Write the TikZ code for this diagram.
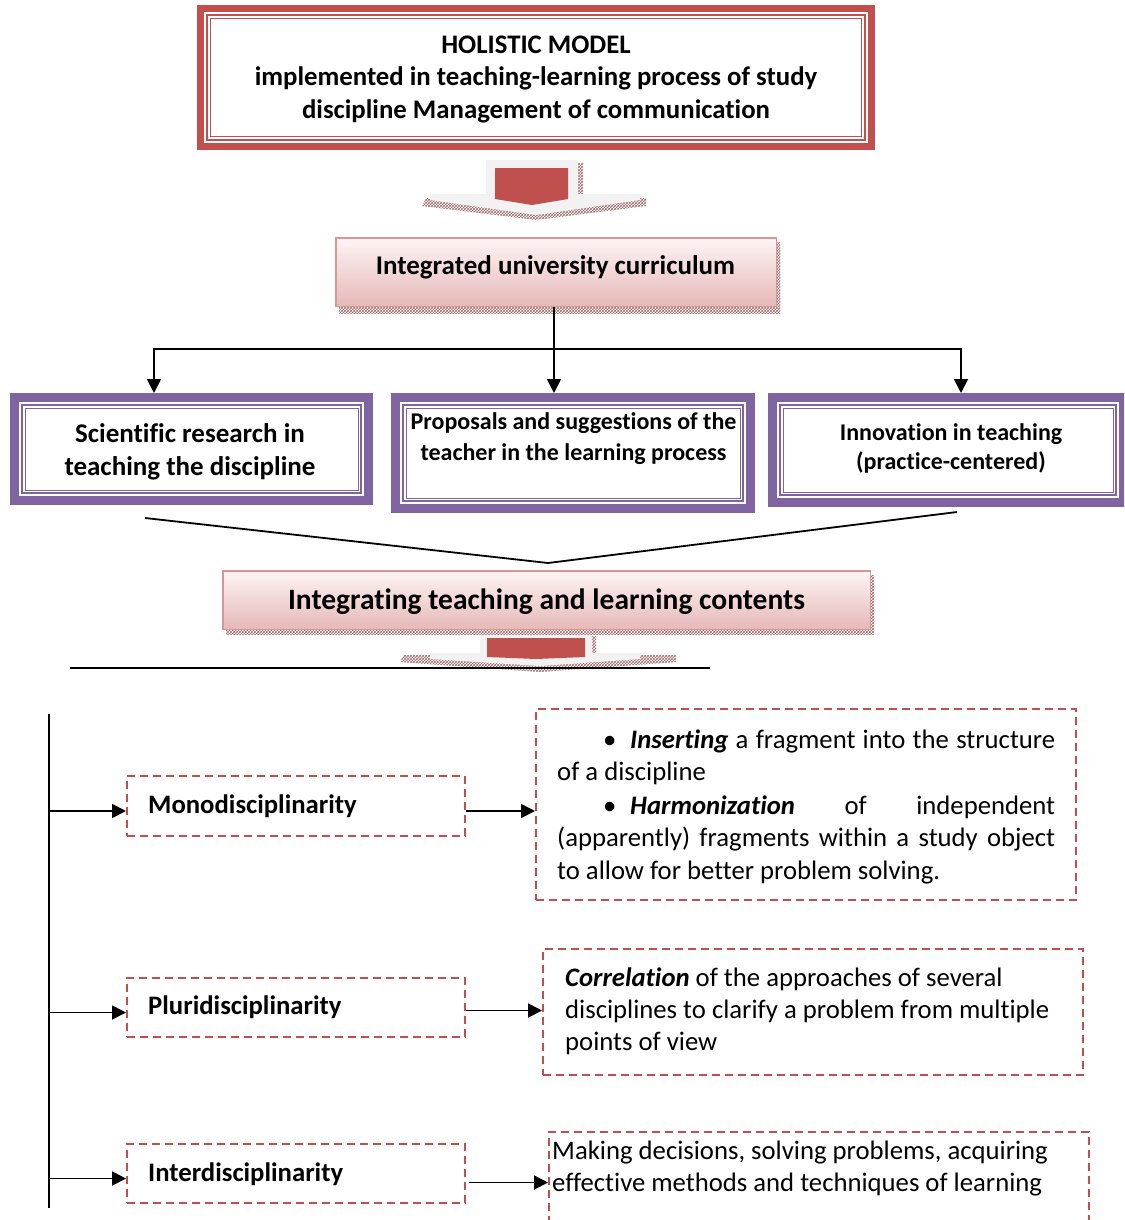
\documentclass[tikz,border=0pt]{standalone}
\usepackage{fontspec}
\setmainfont{Carlito}[Ligatures=NoCommon]
\usetikzlibrary{arrows.meta,patterns,calc}
\definecolor{redc}{HTML}{C0504D}
\definecolor{purc}{HTML}{8064A2}
\definecolor{pinkb}{HTML}{D99694}
\definecolor{pinkf}{HTML}{E6B9B8}
\definecolor{pinkt}{HTML}{FDF4F4}
\definecolor{hatchc}{HTML}{9B6A6A}
\definecolor{greyarr}{HTML}{F2F2F2}
\begin{document}
\begin{tikzpicture}[x=1pt,y=-1pt,
  redframe/.style={draw=redc, line width=7pt, fill=white, inner sep=0pt},
  purframe/.style={draw=purc, line width=9pt, fill=white, inner sep=0pt},
  gradbox/.style={draw=pinkb, line width=1.5pt, top color=pinkt, bottom color=pinkf, inner sep=0pt},
  hatchfill/.style={pattern=crosshatch, pattern color=hatchc},
  dbox/.style={draw=redc, line width=2pt, dash pattern=on 8pt off 5pt, inner sep=0pt},
  arr/.style={-{Triangle[length=14pt,width=14pt]}, line width=1.8pt},
  conn/.style={line width=1.8pt},
  ctxt/.style={inner sep=0pt, anchor=base},
  ltxt/.style={inner sep=0pt, anchor=base west},
  bnorm/.style={font=\fontsize{26.7}{32}\selectfont}
]
\clip (0,0) rectangle (1124,1220);
\fill[white] (0,0) rectangle (1124,1220);

% ---------- top box ----------
\node[redframe, minimum width=671pt, minimum height=138pt] (holistic) at (536,77.5) {};
\draw[redc, line width=1.5pt] ($(holistic.north west)+(10,10)$) rectangle ($(holistic.south east)+(-10,-10)$);
\draw[redc, line width=0.8pt] ($(holistic.north west)+(13.5,13.5)$) rectangle ($(holistic.south east)+(-13.5,-13.5)$);
\begin{scope}[font=\bfseries\fontsize{26.8}{32}\selectfont]
\node[ctxt] (h1) at (536,54) {HOLISTIC MODEL};
\node[ctxt] (h2) at (536,86) {implemented in teaching-learning process of study};
\node[ctxt] (h3) at (536,118) {discipline Management of communication};
\end{scope}

% ---------- block arrow 1 ----------
\fill[hatchfill] (426,198) -- (646,198) -- (646,206) -- (536,220) -- (422,206) -- cycle;
\fill[hatchfill] (578,163) rectangle (583,198);
\fill[greyarr] (486,160) -- (578,160) -- (578,194) -- (640,194) -- (640,200) -- (536,215) -- (430,200) -- (430,194) -- (486,194) -- cycle;
\fill[redc] (495,168) -- (568,168) -- (568,199) -- (532,205) -- (495,199) -- cycle;

% ---------- curriculum ----------
\fill[hatchfill] (339,242) rectangle (780,313);
\node[gradbox, minimum width=440.5pt, minimum height=68.5pt] (curr) at (556,272) {};
\node[ctxt, font=\bfseries\fontsize{27}{30}\selectfont] (currt) at (555.5,274) {Integrated university curriculum};

% ---------- branches ----------
\coordinate (hub) at (554,349);
\draw[conn] (hub |- curr.south) -- (hub);

\node[purframe, minimum width=354pt, minimum height=103pt] (b1) at (191.5,449) {};
\node[purframe, minimum width=355pt, minimum height=111pt] (b2) at (573,453) {};
\node[purframe, minimum width=351pt, minimum height=105pt] (b3) at (948,450) {};
\foreach \b in {b1,b2,b3}{
  \draw[purc, line width=1.5pt] ($(\b.north west)+(12,12)$) rectangle ($(\b.south east)+(-12,-12)$);
  \draw[purc, line width=0.8pt] ($(\b.north west)+(15,15)$) rectangle ($(\b.south east)+(-15,-15)$);
}
\draw[arr] (hub) -| ([xshift=-37.5pt]b1.north);
\draw[arr] (hub) -- ([xshift=-19pt]b2.north);
\draw[arr] (hub) -| ([xshift=13pt]b3.north);

\begin{scope}[font=\bfseries\fontsize{27}{30}\selectfont]
\node[ctxt] (b1a) at (190,442) {Scientific research in};
\node[ctxt] (b1b) at (190,475) {teaching the discipline};
\end{scope}
\begin{scope}[font=\bfseries\fontsize{24}{30}\selectfont]
\node[ctxt] (b2a) at (573.5,429) {Proposals and suggestions of the};
\node[ctxt] (b2b) at (573.5,460) {teacher in the learning process};
\end{scope}
\begin{scope}[font=\bfseries\fontsize{24}{30}\selectfont]
\node[ctxt] (b3a) at (951,440) {Innovation in teaching};
\node[ctxt] (b3b) at (951,469) {(practice-centered)};
\end{scope}

% ---------- converging lines ----------
\coordinate (cl) at (145,518);
\coordinate (ctip) at (548,563);
\coordinate (cr) at (957,512);
\draw[conn] (cl) -- (ctip) -- (cr);

% ---------- integrating ----------
\fill[hatchfill] (226,575) rectangle (874,634);
\node[gradbox, minimum width=647.5pt, minimum height=58.5pt] (integ) at (546.5,600) {};
\node[ctxt, font=\bfseries\fontsize{29.5}{32}\selectfont] (integt) at (546.5,609) {Integrating teaching and learning contents};

% ---------- block arrow 2 ----------
\fill[hatchfill] (404,655) -- (676,655) -- (676,662) -- (540,672) -- (400,662) -- cycle;
\fill[hatchfill] (592,636) rectangle (596,655);
\fill[greyarr] (480,635) -- (592,635) -- (592,653) -- (640,653) -- (640,659) -- (540,666) -- (430,659) -- (430,653) -- (480,653) -- cycle;
\fill[redc] (487,638) -- (585,638) -- (585,657) -- (536,659) -- (487,657) -- cycle;

\coordinate (hl1) at (70,668);
\coordinate (hl2) at (710,668);
\draw[conn] (hl1) -- (hl2);

% ---------- lower part ----------
\coordinate (sp1) at (49,714);
\coordinate (sp2) at (49,1208);
\draw[conn] (sp1) -- (sp2);

\node[dbox, minimum width=338pt, minimum height=60pt] (mono) at (296,806) {};
\node[dbox, minimum width=338pt, minimum height=59pt] (pluri) at (296,1007.5) {};
\node[dbox, minimum width=338pt, minimum height=59pt] (inter) at (296,1173.5) {};
\begin{scope}[font=\bfseries\fontsize{26.7}{30}\selectfont]
\node[ltxt] (monot) at (148,813) {Monodisciplinarity};
\node[ltxt] (plurit) at (148,1014) {Pluridisciplinarity};
\node[ltxt] (intert) at (148,1181) {Interdisciplinarity};
\end{scope}

\draw[arr] ([yshift=-5pt]sp1 |- mono.west) -- ([yshift=-5pt]mono.west);
\draw[arr] ([yshift=-5pt]sp1 |- pluri.west) -- ([yshift=-5pt]pluri.west);
\draw[arr] ([yshift=-5pt]sp1 |- inter.west) -- ([yshift=-5pt]inter.west);

\node[dbox, minimum width=540pt, minimum height=191pt] (boxA) at (806,804.5) {};
\node[dbox, minimum width=540pt, minimum height=126pt] (boxB) at (813,1012) {};
\node[dbox, minimum width=540pt, minimum height=110pt] (boxC) at (819,1187) {};

\draw[arr] ([yshift=-5pt]mono.east) -- ([yshift=-5pt]mono.east -| boxA.west);
\draw[arr] ([yshift=-3pt]pluri.east) -- ([yshift=-3pt]pluri.east -| boxB.west);
\draw[arr] ([xshift=3pt,yshift=-9pt]inter.east) -- ([yshift=-9pt]inter.east -| boxC.west);

\begin{scope}[bnorm]
\node[ltxt] (a0) at (603,748) {•};
\node[ltxt] (a1) at (630,748) {\makebox[425pt][s]{\textbf{\textit{Inserting}} a fragment into the structure}};
\node[ltxt] (a2) at (557,780) {of a discipline};
\node[ltxt] (a3b) at (603,814) {•};
\node[ltxt] (a3) at (630,814) {\makebox[425pt][s]{\textbf{\textit{Harmonization}} of independent}};
\node[ltxt] (a4) at (557,846) {\makebox[498pt][s]{(apparently) fragments within a study object}};
\node[ltxt] (a5) at (557,879) {to allow for better problem solving.};

\node[ltxt] (c1) at (565,986) {\textbf{\textit{Correlation}} of the approaches of several};
\node[ltxt] (c2) at (565,1018) {disciplines to clarify a problem from multiple};
\node[ltxt] (c3) at (565,1050) {points of view};

\node[ltxt] (d1) at (552,1159) {Making decisions, solving problems, acquiring};
\node[ltxt] (d2) at (552,1191) {effective methods and techniques of learning};
\end{scope}
\end{tikzpicture}
\end{document}
